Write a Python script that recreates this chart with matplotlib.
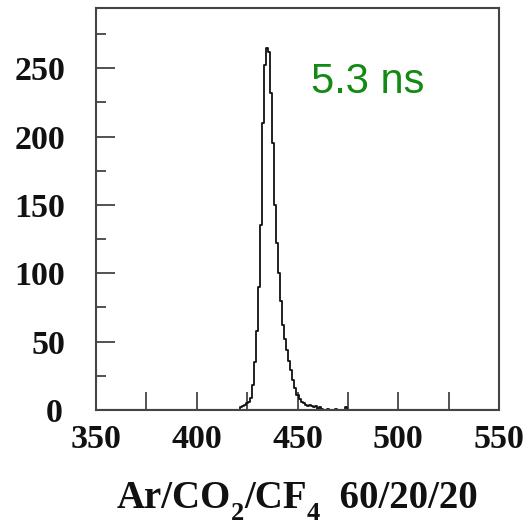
import numpy as np
import matplotlib
matplotlib.use("Agg")
import matplotlib.pyplot as plt
from matplotlib.ticker import MultipleLocator, FuncFormatter

# Arrival-time histogram (1 ns bins, centre of bin -> counts)
time_ns = [421, 422, 423, 424, 425, 426, 427, 428, 429, 430,
           431, 432, 433, 434, 435, 436, 437, 438, 439, 440,
           441, 442, 443, 444, 445, 446, 447, 448, 449, 450,
           451, 452, 453, 454, 455, 456, 457, 458, 459, 460,
           461, 462, 463, 464, 465, 466, 467, 468, 469, 470,
           471, 472, 473, 474, 475, 476]
counts = [0, 2, 3, 4, 5, 6, 9, 18, 35, 58,
          90, 135, 210, 252, 265, 262, 232, 195, 150, 122,
          100, 80, 62, 52, 44, 36, 29, 22, 16, 11,
          8, 6, 5, 4, 3, 4, 3, 2, 3, 1,
          2, 1, 0, 0, 1, 0, 0, 0, 1, 0,
          0, 0, 0, 2, 0, 0]

resolution_label = "5.3 ns"
# gas mixture caption, split into (text, is_subscript) pieces
gas_pieces = [("Ar/CO", False), ("2", True), ("/CF", False), ("4", True),
              ("  60/20/20", False)]

W, H = 524, 527
fig = plt.figure(figsize=(W / 100, H / 100), dpi=100)
ax = fig.add_axes([96 / W, 1 - 410 / H, (499 - 96) / W, (410 - 8) / H])

ax.step(time_ns, counts, where="mid", color="#111111", lw=1.3)
ax.axhline(0, color="#444444", lw=1.5)

ax.set_xlim(350, 550)
ax.set_ylim(0, 294)

ax.xaxis.set_major_locator(MultipleLocator(50))
ax.xaxis.set_minor_locator(MultipleLocator(25))
ax.yaxis.set_major_locator(MultipleLocator(50))
ax.yaxis.set_minor_locator(MultipleLocator(25))
# the zero on the count axis is drawn separately, a little lower
ax.yaxis.set_major_formatter(FuncFormatter(lambda v, p: "" if v == 0 else f"{v:.0f}"))

ax.tick_params(axis="both", which="both", direction="in", color="#444444", width=1.3)
ax.tick_params(axis="x", which="both", length=13, pad=10)
ax.tick_params(axis="y", which="major", length=13.5, pad=22)
ax.tick_params(axis="y", which="minor", length=7)
ax.tick_params(top=False, right=False)

label_style = dict(family="Liberation Serif", fontweight="bold",
                   fontsize=24.5, color="#111111")
for lab in ax.get_xticklabels() + ax.get_yticklabels():
    lab.set_fontfamily(label_style["family"])
    lab.set_fontweight(label_style["fontweight"])
    lab.set_fontsize(label_style["fontsize"])
    lab.set_color(label_style["color"])

fig.text(63 / W, 1 - 414 / H, "0", ha="right", va="center", **label_style)

for sp in ax.spines.values():
    sp.set_color("#444444")
    sp.set_linewidth(1.5)

fig.text(311 / W, 1 - 93 / H, resolution_label,
         family="Liberation Sans", fontsize=30, color="#138a13",
         ha="left", va="baseline")

# caption assembled piece by piece so the subscripts can drop below the baseline
main_size, sub_size = 28, 19
baseline_px = 508
sub_drop_px = 12
renderer = fig.canvas.get_renderer()
widths = []
texts = []
for s, is_sub in gas_pieces:
    t = fig.text(0, 0, s, family="Liberation Serif", fontweight="bold",
                 fontsize=sub_size if is_sub else main_size, color="#111111",
                 ha="left", va="baseline")
    texts.append((t, is_sub))
    widths.append(t.get_window_extent(renderer).width)
total = sum(widths)
x_px = 297 - total / 2
for (t, is_sub), w in zip(texts, widths):
    y_px = baseline_px + (sub_drop_px if is_sub else 0)
    t.set_position((x_px / W, 1 - y_px / H))
    x_px += w

fig.savefig("out.png", dpi=100, facecolor="white")
